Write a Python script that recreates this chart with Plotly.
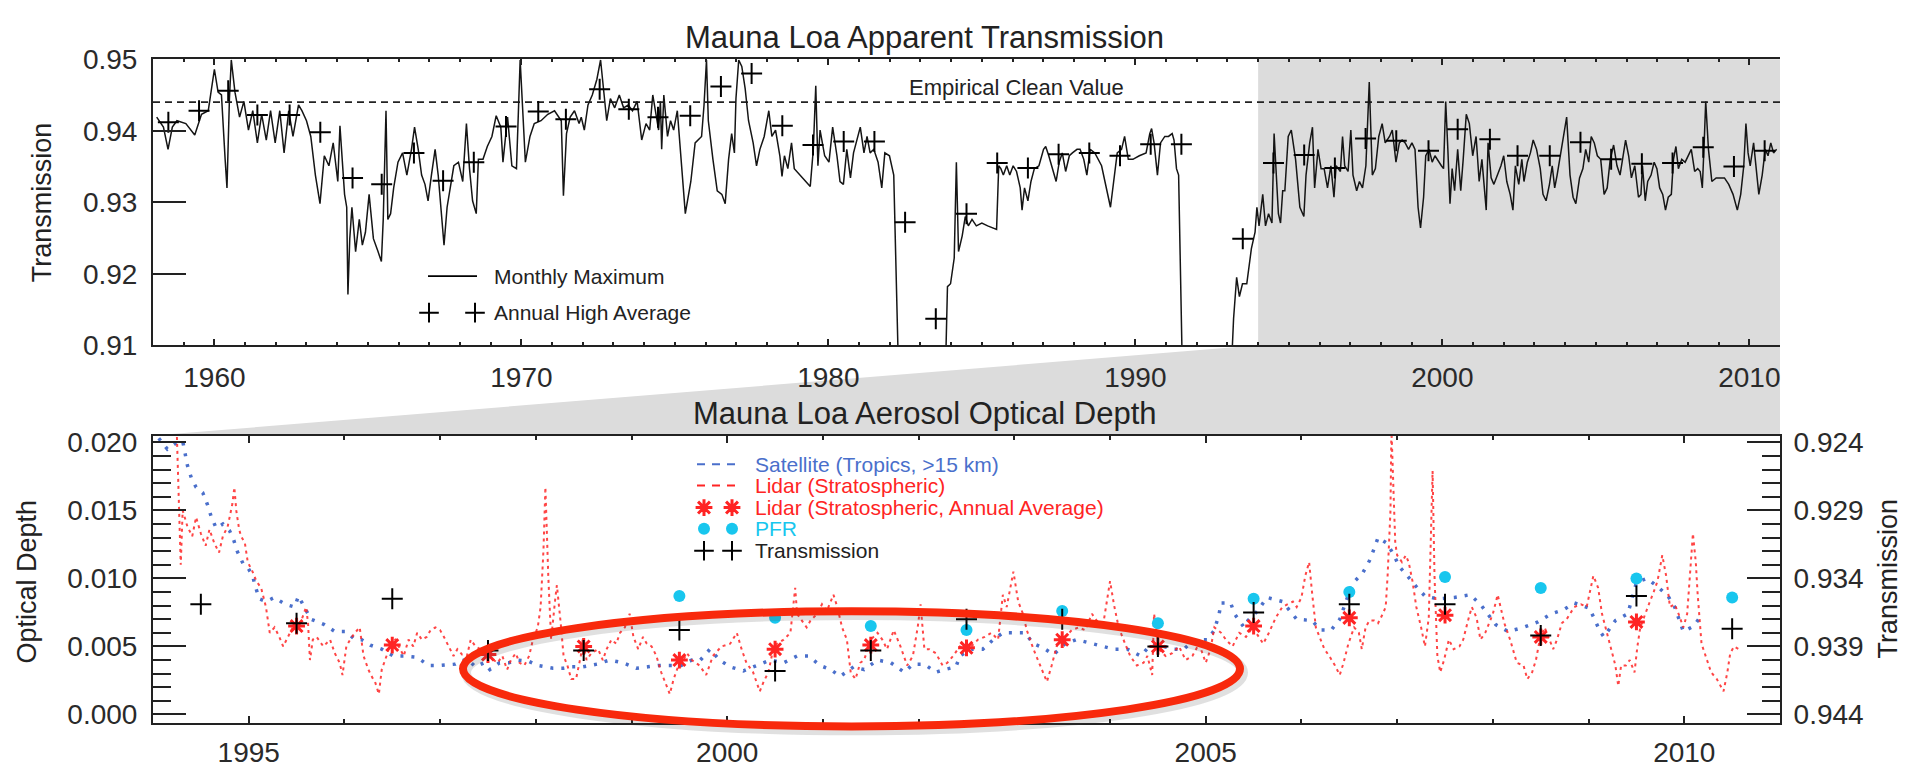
import plotly.graph_objects as go

W, H = 1919, 778
FONT = "Liberation Sans, Arial, Helvetica, sans-serif"
INK = "#222222"

# ---------------- data: Mauna Loa apparent transmission (monthly maximum) ----------------
MONTHLY_YEAR = [
    1958.12, 1958.34, 1958.49, 1958.63, 1958.78, 1959.07, 1959.36, 1959.58, 1959.80, 1960.00,
    1960.12, 1960.23, 1960.35, 1960.41, 1960.49, 1960.55, 1960.67, 1960.82, 1960.96, 1961.11,
    1961.25, 1961.40, 1961.54, 1961.69, 1961.83, 1961.98, 1962.13, 1962.27, 1962.42, 1962.56,
    1962.74, 1962.85, 1963.00, 1963.14, 1963.29, 1963.44, 1963.58, 1963.73, 1963.87, 1964.02,
    1964.09, 1964.16, 1964.24, 1964.31, 1964.35, 1964.41, 1964.48, 1964.60, 1964.72, 1964.82,
    1964.92, 1965.04, 1965.18, 1965.33, 1965.44, 1965.50, 1965.59, 1965.65, 1965.74, 1965.84,
    1965.98, 1966.13, 1966.27, 1966.42, 1966.52, 1966.64, 1966.75, 1966.86, 1966.96, 1967.07,
    1967.19, 1967.29, 1967.39, 1967.48, 1967.58, 1967.69, 1967.80, 1967.95, 1968.09, 1968.21,
    1968.31, 1968.41, 1968.53, 1968.60, 1968.75, 1968.89, 1969.04, 1969.18, 1969.33, 1969.40,
    1969.55, 1969.69, 1969.84, 1969.96, 1970.06, 1970.13, 1970.28, 1970.42, 1970.64, 1970.86,
    1971.08, 1971.30, 1971.37, 1971.47, 1971.59, 1971.73, 1971.88, 1971.95, 1972.05, 1972.17,
    1972.31, 1972.46, 1972.58, 1972.68, 1972.78, 1972.90, 1973.04, 1973.19, 1973.33, 1973.48,
    1973.62, 1973.77, 1973.92, 1974.06, 1974.18, 1974.28, 1974.38, 1974.47, 1974.53, 1974.57,
    1974.64, 1974.76, 1974.86, 1974.96, 1975.08, 1975.23, 1975.34, 1975.52, 1975.66, 1975.87,
    1975.95, 1976.03, 1976.09, 1976.24, 1976.38, 1976.53, 1976.64, 1976.75, 1976.85, 1976.94,
    1976.99, 1977.08, 1977.18, 1977.29, 1977.40, 1977.55, 1977.66, 1977.77, 1977.91, 1978.06,
    1978.16, 1978.28, 1978.42, 1978.49, 1978.57, 1978.68, 1978.80, 1978.89, 1979.15, 1979.41,
    1979.51, 1979.59, 1979.66, 1979.73, 1979.88, 1980.02, 1980.14, 1980.28, 1980.38, 1980.49,
    1980.60, 1980.72, 1980.82, 1980.92, 1981.04, 1981.16, 1981.26, 1981.36, 1981.48, 1981.62,
    1981.74, 1981.84, 1981.99, 1982.13, 1982.32,
    1983.78, 1983.88, 1983.98, 1984.10, 1984.17, 1984.24, 1984.36, 1984.46, 1984.56, 1984.68,
    1984.82, 1985.00, 1985.19, 1985.48, 1985.55, 1985.62, 1985.70, 1985.81, 1985.91, 1986.02,
    1986.13, 1986.25, 1986.31, 1986.39, 1986.50, 1986.60, 1986.71, 1986.86, 1987.01, 1987.08,
    1987.18, 1987.30, 1987.42, 1987.52, 1987.62, 1987.73, 1987.85, 1987.95, 1988.10, 1988.20,
    1988.32, 1988.42, 1988.53, 1988.68, 1988.90, 1989.19, 1989.41, 1989.55, 1989.65, 1989.77,
    1989.92, 1990.13, 1990.35, 1990.47, 1990.53, 1990.61, 1990.72, 1990.82, 1990.96, 1991.08,
    1991.20, 1991.26, 1991.34, 1991.41, 1991.56,
    1993.06, 1993.20, 1993.30, 1993.39, 1993.49, 1993.63, 1993.78, 1993.90, 1993.96, 1994.03,
    1994.15, 1994.24, 1994.34, 1994.45, 1994.52, 1994.59, 1994.66, 1994.73, 1994.80, 1994.87,
    1994.98, 1995.08, 1995.22, 1995.36, 1995.49, 1995.56, 1995.68, 1995.77, 1995.84, 1995.95,
    1996.05, 1996.15, 1996.26, 1996.37, 1996.47, 1996.54, 1996.68, 1996.75, 1996.82, 1996.93,
    1997.02, 1997.09, 1997.21, 1997.30, 1997.40, 1997.51, 1997.62, 1997.72, 1997.82, 1997.93,
    1998.04, 1998.14, 1998.28, 1998.37, 1998.49, 1998.60, 1998.69, 1998.79, 1998.90, 1999.01,
    1999.11, 1999.21, 1999.29, 1999.39, 1999.46, 1999.57, 1999.67, 1999.76, 1999.88, 1999.97,
    2000.04, 2000.11, 2000.18, 2000.25, 2000.32, 2000.40, 2000.50, 2000.60, 2000.68, 2000.78,
    2000.88, 2000.99, 2001.10, 2001.20, 2001.29, 2001.38, 2001.43, 2001.49, 2001.59, 2001.68,
    2001.79, 2001.91, 2002.00, 2002.10, 2002.21, 2002.30, 2002.38, 2002.49, 2002.59, 2002.66,
    2002.77, 2002.87, 2002.96, 2003.07, 2003.19, 2003.28, 2003.38, 2003.49, 2003.58, 2003.66,
    2003.74, 2003.84, 2003.94, 2004.05, 2004.16, 2004.26, 2004.35, 2004.47, 2004.58, 2004.67,
    2004.77, 2004.85, 2004.95, 2005.05, 2005.16, 2005.27, 2005.37, 2005.47, 2005.58, 2005.69,
    2005.79, 2005.88, 2005.97, 2006.07, 2006.16, 2006.27, 2006.39, 2006.47, 2006.52, 2006.61,
    2006.69, 2006.80, 2006.90, 2006.99, 2007.08, 2007.18, 2007.27, 2007.36, 2007.46, 2007.53,
    2007.61, 2007.69, 2007.80, 2007.91, 2008.01, 2008.11, 2008.22, 2008.32, 2008.40, 2008.47,
    2008.53, 2008.58, 2008.67, 2008.78, 2008.92, 2009.06, 2009.19, 2009.33, 2009.47, 2009.61,
    2009.72, 2009.82, 2009.89, 2009.96, 2010.03, 2010.14, 2010.24, 2010.31, 2010.42, 2010.52,
    2010.61, 2010.70, 2010.79, 2010.89,
]
MONTHLY_TRANS = [
    0.9419, 0.9405, 0.9374, 0.9405, 0.9414, 0.9410, 0.9394, 0.9423, 0.9428, 0.9486,
    0.9454, 0.9450, 0.9360, 0.9320, 0.9445, 0.9499, 0.9454, 0.9419, 0.9441, 0.9401,
    0.9428, 0.9383, 0.9423, 0.9387, 0.9428, 0.9383, 0.9428, 0.9369, 0.9428, 0.9392,
    0.9436, 0.9428, 0.9414, 0.9392, 0.9338, 0.9298, 0.9365, 0.9351, 0.9383, 0.9329,
    0.9407, 0.9360, 0.9311, 0.9293, 0.9171, 0.9249, 0.9293, 0.9231, 0.9276, 0.9240,
    0.9258, 0.9311, 0.9249, 0.9231, 0.9217, 0.9276, 0.9428, 0.9276, 0.9284, 0.9320,
    0.9356, 0.9369, 0.9338, 0.9374, 0.9405, 0.9374, 0.9338, 0.9325, 0.9302, 0.9338,
    0.9374, 0.9338, 0.9284, 0.9240, 0.9293, 0.9320, 0.9351, 0.9356, 0.9329, 0.9410,
    0.9347, 0.9302, 0.9284, 0.9360, 0.9360, 0.9378, 0.9392, 0.9421, 0.9405, 0.9356,
    0.9419, 0.9351, 0.9347, 0.9499, 0.9419, 0.9356, 0.9392, 0.9410, 0.9414, 0.9423,
    0.9428, 0.9414, 0.9309, 0.9396, 0.9419, 0.9428, 0.9410, 0.9419, 0.9401, 0.9436,
    0.9450, 0.9472, 0.9499, 0.9459, 0.9414, 0.9445, 0.9432, 0.9450, 0.9432, 0.9436,
    0.9428, 0.9441, 0.9387, 0.9410, 0.9401, 0.9450, 0.9423, 0.9401, 0.9441, 0.9374,
    0.9450, 0.9392, 0.9414, 0.9401, 0.9428, 0.9338, 0.9284, 0.9329, 0.9383, 0.9392,
    0.9436, 0.9499, 0.9414, 0.9360, 0.9316, 0.9311, 0.9298, 0.9360, 0.9396, 0.9369,
    0.9445, 0.9499, 0.9490, 0.9459, 0.9414, 0.9383, 0.9351, 0.9374, 0.9392, 0.9428,
    0.9392, 0.9401, 0.9365, 0.9336, 0.9365, 0.9347, 0.9383, 0.9347, 0.9334, 0.9322,
    0.9374, 0.9463, 0.9351, 0.9401, 0.9365, 0.9356, 0.9405, 0.9365, 0.9329, 0.9325,
    0.9374, 0.9334, 0.9369, 0.9387, 0.9405, 0.9369, 0.9392, 0.9369, 0.9374, 0.9356,
    0.9320, 0.9369, 0.9365, 0.9338, 0.9000,
    0.9000, 0.9182, 0.9186, 0.9222, 0.9356, 0.9231, 0.9253, 0.9280, 0.9267, 0.9276,
    0.9267, 0.9271, 0.9267, 0.9262, 0.9351, 0.9347, 0.9338, 0.9351, 0.9338, 0.9351,
    0.9343, 0.9320, 0.9289, 0.9320, 0.9302, 0.9329, 0.9347, 0.9351, 0.9374, 0.9378,
    0.9365, 0.9347, 0.9329, 0.9356, 0.9369, 0.9343, 0.9365, 0.9369, 0.9374, 0.9374,
    0.9360, 0.9338, 0.9374, 0.9369, 0.9351, 0.9293, 0.9369, 0.9374, 0.9392, 0.9360,
    0.9360, 0.9365, 0.9369, 0.9396, 0.9403, 0.9383, 0.9338, 0.9383, 0.9392, 0.9392,
    0.9396, 0.9387, 0.9347, 0.9338, 0.9000,
    0.9000, 0.9137, 0.9195, 0.9168, 0.9186, 0.9186, 0.9235, 0.9258, 0.9293, 0.9267,
    0.9311, 0.9267, 0.9284, 0.9271, 0.9396, 0.9338, 0.9284, 0.9271, 0.9316, 0.9316,
    0.9392, 0.9401, 0.9360, 0.9293, 0.9280, 0.9338, 0.9383, 0.9405, 0.9320, 0.9374,
    0.9347, 0.9347, 0.9320, 0.9351, 0.9307, 0.9351, 0.9343, 0.9392, 0.9351, 0.9343,
    0.9401, 0.9338, 0.9316, 0.9329, 0.9320, 0.9351, 0.9468, 0.9338, 0.9347, 0.9392,
    0.9410, 0.9383, 0.9392, 0.9401, 0.9356, 0.9383, 0.9387, 0.9383, 0.9374, 0.9383,
    0.9374, 0.9293, 0.9264, 0.9307, 0.9365, 0.9374, 0.9356, 0.9365, 0.9356, 0.9351,
    0.9347, 0.9441, 0.9374, 0.9298, 0.9347, 0.9316, 0.9374, 0.9316, 0.9360, 0.9423,
    0.9410, 0.9365, 0.9392, 0.9329, 0.9360, 0.9311, 0.9289, 0.9383, 0.9334, 0.9325,
    0.9338, 0.9351, 0.9365, 0.9329, 0.9311, 0.9289, 0.9351, 0.9325, 0.9360, 0.9329,
    0.9356, 0.9369, 0.9387, 0.9374, 0.9347, 0.9311, 0.9302, 0.9325, 0.9351, 0.9320,
    0.9338, 0.9365, 0.9387, 0.9419, 0.9338, 0.9307, 0.9298, 0.9334, 0.9347, 0.9374,
    0.9356, 0.9392, 0.9383, 0.9365, 0.9360, 0.9311, 0.9320, 0.9360, 0.9380, 0.9351,
    0.9338, 0.9365, 0.9387, 0.9365, 0.9334, 0.9351, 0.9307, 0.9311, 0.9351, 0.9302,
    0.9329, 0.9338, 0.9356, 0.9347, 0.9320, 0.9311, 0.9289, 0.9307, 0.9311, 0.9360,
    0.9378, 0.9347, 0.9360, 0.9356, 0.9365, 0.9374, 0.9343, 0.9347, 0.9343, 0.9320,
    0.9383, 0.9441, 0.9374, 0.9329, 0.9334, 0.9334, 0.9334, 0.9325, 0.9311, 0.9289,
    0.9311, 0.9351, 0.9410, 0.9369, 0.9351, 0.9383, 0.9338, 0.9311, 0.9338, 0.9374,
    0.9365, 0.9383, 0.9369, 0.9374,
]

ANNUAL_YEAR = [
    1958.5, 1959.5, 1960.45, 1961.4, 1962.45, 1963.45, 1964.5, 1965.45, 1966.5, 1967.45,
    1968.45, 1969.5, 1970.55, 1971.45, 1972.55, 1973.5, 1974.45, 1975.5, 1976.5, 1977.5,
    1978.5, 1979.5, 1980.5, 1981.5, 1982.5, 1983.5, 1984.5, 1985.5, 1986.5, 1987.5,
    1988.5, 1989.5, 1990.5, 1991.5, 1993.5, 1994.5, 1995.5, 1996.5, 1997.5, 1998.5,
    1999.55, 2000.5, 2001.55, 2002.45, 2003.5, 2004.5, 2005.5, 2006.5, 2007.5, 2008.5,
    2009.5, 2010.5,
]
ANNUAL_TRANS = [
    0.9412, 0.9428, 0.9456, 0.9422, 0.9422, 0.9398, 0.9334, 0.9325, 0.9369, 0.9330,
    0.9356, 0.9406, 0.9427, 0.9416, 0.9458, 0.9430, 0.9419, 0.9421, 0.9462, 0.9480,
    0.9407, 0.9380, 0.9385, 0.9385, 0.9272, 0.9137, 0.9284, 0.9355, 0.9348, 0.9367,
    0.9369, 0.9365, 0.9381, 0.9381, 0.9249, 0.9355, 0.9366, 0.9348, 0.9389, 0.9386,
    0.9372, 0.9402, 0.9388, 0.9365, 0.9365, 0.9384, 0.9360, 0.9354, 0.9355, 0.9377,
    0.9350, 0.9372,
]
CLEAN_VALUE = 0.944

# ---------------- data: Mauna Loa aerosol optical depth ----------------
SAT_YEAR = [
    1994.06, 1994.15, 1994.23, 1994.31, 1994.36, 1994.40, 1994.45, 1994.52, 1994.57, 1994.61,
    1994.66, 1994.73, 1994.80, 1994.84, 1994.88, 1994.94, 1994.99, 1995.04, 1995.07, 1995.11,
    1995.18, 1995.27, 1995.38, 1995.48, 1995.52, 1995.58, 1995.65, 1995.79, 1995.90, 1996.02,
    1996.11, 1996.18, 1996.27, 1996.39, 1996.51, 1996.62, 1996.76, 1996.88, 1997.00, 1997.16,
    1997.28, 1997.37, 1997.46, 1997.52, 1997.62, 1997.72, 1997.81, 1997.93, 1998.02, 1998.18,
    1998.29, 1998.37, 1998.49, 1998.64, 1998.77, 1998.91, 1999.05, 1999.17, 1999.28, 1999.40,
    1999.52, 1999.63, 1999.72, 1999.82, 1999.92, 2000.03, 2000.17, 2000.31, 2000.45, 2000.59,
    2000.73, 2000.85, 2000.97, 2001.08, 2001.18, 2001.32, 2001.43, 2001.57, 2001.71, 2001.85,
    2001.94, 2002.06, 2002.18, 2002.27, 2002.39, 2002.43, 2002.55, 2002.67, 2002.78, 2002.88,
    2002.99, 2003.11, 2003.20, 2003.30, 2003.41, 2003.53, 2003.65, 2003.76, 2003.90, 2004.04,
    2004.18, 2004.32, 2004.42, 2004.56, 2004.67, 2004.77, 2004.88, 2005.02, 2005.09, 2005.14,
    2005.16, 2005.26, 2005.30, 2005.40, 2005.44, 2005.54, 2005.64, 2005.80, 2005.95, 2006.11,
    2006.20, 2006.31, 2006.40, 2006.53, 2006.64, 2006.71, 2006.76, 2006.80, 2006.89, 2006.96,
    2007.02, 2007.11, 2007.20, 2007.29, 2007.42, 2007.60, 2007.76, 2007.87, 2008.03, 2008.16,
    2008.32, 2008.47, 2008.61, 2008.74, 2008.85, 2009.01, 2009.12, 2009.16, 2009.28, 2009.41,
    2009.50, 2009.61, 2009.72, 2009.83, 2009.90, 2009.99, 2010.10, 2010.19,
]
SAT_OD = [
    0.0203, 0.0195, 0.0199, 0.0201, 0.0183, 0.0174, 0.0167, 0.0163, 0.0154, 0.0145,
    0.0137, 0.0140, 0.0135, 0.0129, 0.0120, 0.0111, 0.0108, 0.0102, 0.0094, 0.0085,
    0.0083, 0.0086, 0.0081, 0.0079, 0.0087, 0.0079, 0.0070, 0.0066, 0.0061, 0.0061,
    0.0055, 0.0055, 0.0051, 0.0048, 0.0043, 0.0043, 0.0042, 0.0036, 0.0036, 0.0037,
    0.0041, 0.0035, 0.0038, 0.0033, 0.0038, 0.0038, 0.0040, 0.0039, 0.0036, 0.0034,
    0.0034, 0.0035, 0.0035, 0.0037, 0.0040, 0.0038, 0.0034, 0.0035, 0.0036, 0.0036,
    0.0036, 0.0040, 0.0040, 0.0048, 0.0040, 0.0035, 0.0032, 0.0036, 0.0040, 0.0038,
    0.0043, 0.0043, 0.0036, 0.0033, 0.0028, 0.0035, 0.0033, 0.0040, 0.0038, 0.0031,
    0.0037, 0.0037, 0.0031, 0.0033, 0.0035, 0.0043, 0.0048, 0.0048, 0.0055, 0.0060,
    0.0060, 0.0060, 0.0052, 0.0049, 0.0044, 0.0052, 0.0055, 0.0053, 0.0051, 0.0048,
    0.0048, 0.0043, 0.0051, 0.0050, 0.0048, 0.0048, 0.0055, 0.0055, 0.0062, 0.0074,
    0.0082, 0.0082, 0.0074, 0.0064, 0.0069, 0.0076, 0.0086, 0.0083, 0.0070, 0.0069,
    0.0062, 0.0062, 0.0070, 0.0096, 0.0104, 0.0113, 0.0122, 0.0130, 0.0126, 0.0118,
    0.0109, 0.0101, 0.0094, 0.0087, 0.0085, 0.0086, 0.0088, 0.0081, 0.0066, 0.0061,
    0.0064, 0.0068, 0.0074, 0.0077, 0.0082, 0.0078, 0.0061, 0.0057, 0.0069, 0.0074,
    0.0097, 0.0100, 0.0094, 0.0087, 0.0079, 0.0061, 0.0065, 0.0074,
]

LIDAR_YEAR = [
    1994.25, 1994.29, 1994.31, 1994.36, 1994.41, 1994.45, 1994.50, 1994.55, 1994.59, 1994.64,
    1994.69, 1994.73, 1994.78, 1994.83, 1994.85, 1994.87, 1994.90, 1994.92, 1994.96, 1994.99,
    1995.04, 1995.08, 1995.13, 1995.18, 1995.22, 1995.27, 1995.32, 1995.36, 1995.41, 1995.46,
    1995.50, 1995.55, 1995.60, 1995.62, 1995.64, 1995.67, 1995.71, 1995.78, 1995.85, 1995.90,
    1995.95, 1995.98, 1996.02, 1996.06, 1996.11, 1996.16, 1996.20, 1996.25, 1996.30, 1996.32,
    1996.36, 1996.39, 1996.44, 1996.48, 1996.53, 1996.58, 1996.62, 1996.67, 1996.72, 1996.76,
    1996.81, 1996.86, 1996.90, 1996.95, 1997.00, 1997.04, 1997.09, 1997.14, 1997.18, 1997.23,
    1997.28, 1997.32, 1997.37, 1997.42, 1997.46, 1997.51, 1997.56, 1997.60, 1997.65, 1997.70,
    1997.74, 1997.79, 1997.83, 1997.88, 1997.93, 1997.97, 1998.02, 1998.05, 1998.08, 1998.10,
    1998.13, 1998.16, 1998.20, 1998.22, 1998.26, 1998.29, 1998.33, 1998.37, 1998.42, 1998.47,
    1998.49, 1998.53, 1998.58, 1998.65, 1998.70, 1998.74, 1998.79, 1998.84, 1998.88, 1998.93,
    1998.98, 1999.02, 1999.07, 1999.12, 1999.16, 1999.21, 1999.26, 1999.31, 1999.35, 1999.40,
    1999.44, 1999.49, 1999.54, 1999.58, 1999.63, 1999.71, 1999.78, 1999.85, 1999.94, 2000.03,
    2000.10, 2000.15, 2000.20, 2000.27, 2000.34, 2000.38, 2000.43, 2000.48, 2000.52, 2000.59,
    2000.66, 2000.71, 2000.73, 2000.78, 2000.83, 2000.87, 2000.94, 2000.99, 2001.04, 2001.11,
    2001.15, 2001.20, 2001.25, 2001.29, 2001.34, 2001.39, 2001.43, 2001.50, 2001.57, 2001.62,
    2001.67, 2001.74, 2001.81, 2001.88, 2001.94, 2001.99, 2002.02, 2002.06, 2002.11, 2002.18,
    2002.25, 2002.30, 2002.36, 2002.43, 2002.50, 2002.55, 2002.62, 2002.69, 2002.76, 2002.83,
    2002.88, 2002.92, 2002.99, 2003.04, 2003.09, 2003.13, 2003.20, 2003.27, 2003.34, 2003.39,
    2003.46, 2003.53, 2003.60, 2003.67, 2003.74, 2003.81, 2003.86, 2003.93, 2004.00, 2004.04,
    2004.09, 2004.14, 2004.21, 2004.28, 2004.35, 2004.39, 2004.44, 2004.46, 2004.51, 2004.58,
    2004.65, 2004.72, 2004.79, 2004.86, 2004.93, 2005.00, 2005.05, 2005.09, 2005.16, 2005.21,
    2005.28, 2005.35, 2005.42, 2005.49, 2005.60, 2005.66, 2005.73, 2005.80, 2005.86, 2005.91,
    2005.95, 2006.00, 2006.04, 2006.08, 2006.11, 2006.15, 2006.20, 2006.24, 2006.29, 2006.35,
    2006.40, 2006.44, 2006.49, 2006.55, 2006.60, 2006.63, 2006.67, 2006.71, 2006.76, 2006.80,
    2006.85, 2006.88, 2006.90, 2006.93, 2006.94, 2006.98, 2007.00, 2007.05, 2007.09, 2007.12,
    2007.16, 2007.20, 2007.25, 2007.29, 2007.33, 2007.35, 2007.37, 2007.39, 2007.42, 2007.45,
    2007.49, 2007.54, 2007.59, 2007.65, 2007.69, 2007.74, 2007.78, 2007.83, 2007.87, 2007.92,
    2007.96, 2008.00, 2008.05, 2008.12, 2008.18, 2008.25, 2008.32, 2008.36, 2008.41, 2008.45,
    2008.49, 2008.54, 2008.58, 2008.63, 2008.67, 2008.72, 2008.78, 2008.85, 2008.92, 2008.98,
    2009.05, 2009.10, 2009.14, 2009.19, 2009.23, 2009.28, 2009.31, 2009.34, 2009.39, 2009.43,
    2009.48, 2009.51, 2009.54, 2009.59, 2009.63, 2009.68, 2009.72, 2009.77, 2009.81, 2009.85,
    2009.90, 2009.94, 2009.99, 2010.03, 2010.06, 2010.09, 2010.12, 2010.14, 2010.18, 2010.22,
    2010.28, 2010.34, 2010.41, 2010.45, 2010.48, 2010.52, 2010.57,
]
LIDAR_OD = [
    0.0204, 0.0110, 0.0150, 0.0138, 0.0131, 0.0145, 0.0133, 0.0124, 0.0136, 0.0126,
    0.0119, 0.0131, 0.0138, 0.0155, 0.0167, 0.0150, 0.0136, 0.0131, 0.0126, 0.0112,
    0.0105, 0.0098, 0.0093, 0.0079, 0.0060, 0.0064, 0.0057, 0.0050, 0.0057, 0.0064,
    0.0062, 0.0069, 0.0079, 0.0067, 0.0040, 0.0055, 0.0057, 0.0050, 0.0055, 0.0045,
    0.0038, 0.0029, 0.0050, 0.0055, 0.0060, 0.0064, 0.0043, 0.0033, 0.0026, 0.0024,
    0.0015, 0.0033, 0.0043, 0.0052, 0.0055, 0.0048, 0.0043, 0.0055, 0.0050, 0.0060,
    0.0055, 0.0057, 0.0062, 0.0064, 0.0062, 0.0057, 0.0050, 0.0043, 0.0048, 0.0044,
    0.0043, 0.0055, 0.0050, 0.0048, 0.0048, 0.0045, 0.0040, 0.0038, 0.0043, 0.0033,
    0.0040, 0.0045, 0.0038, 0.0036, 0.0043, 0.0055, 0.0064, 0.0079, 0.0121, 0.0167,
    0.0102, 0.0055, 0.0083, 0.0095, 0.0067, 0.0043, 0.0036, 0.0026, 0.0026, 0.0043,
    0.0055, 0.0040, 0.0045, 0.0048, 0.0040, 0.0048, 0.0055, 0.0052, 0.0060, 0.0064,
    0.0074, 0.0057, 0.0048, 0.0057, 0.0052, 0.0050, 0.0043, 0.0031, 0.0024, 0.0015,
    0.0026, 0.0036, 0.0040, 0.0045, 0.0040, 0.0036, 0.0029, 0.0043, 0.0050, 0.0052,
    0.0060, 0.0048, 0.0038, 0.0031, 0.0017, 0.0024, 0.0031, 0.0048, 0.0052, 0.0055,
    0.0060, 0.0093, 0.0074, 0.0069, 0.0064, 0.0069, 0.0074, 0.0081, 0.0076, 0.0088,
    0.0079, 0.0064, 0.0055, 0.0031, 0.0026, 0.0038, 0.0040, 0.0055, 0.0060, 0.0055,
    0.0048, 0.0062, 0.0050, 0.0036, 0.0043, 0.0064, 0.0081, 0.0048, 0.0048, 0.0045,
    0.0036, 0.0038, 0.0043, 0.0050, 0.0048, 0.0050, 0.0055, 0.0057, 0.0060, 0.0055,
    0.0088, 0.0079, 0.0105, 0.0083, 0.0074, 0.0062, 0.0048, 0.0036, 0.0024, 0.0036,
    0.0055, 0.0057, 0.0062, 0.0064, 0.0062, 0.0074, 0.0069, 0.0067, 0.0098, 0.0081,
    0.0064, 0.0055, 0.0043, 0.0036, 0.0038, 0.0043, 0.0029, 0.0074, 0.0048, 0.0043,
    0.0045, 0.0050, 0.0040, 0.0043, 0.0052, 0.0038, 0.0048, 0.0064, 0.0060, 0.0055,
    0.0050, 0.0060, 0.0057, 0.0064, 0.0052, 0.0060, 0.0071, 0.0079, 0.0081, 0.0083,
    0.0079, 0.0086, 0.0102, 0.0112, 0.0090, 0.0064, 0.0055, 0.0048, 0.0043, 0.0036,
    0.0029, 0.0038, 0.0052, 0.0064, 0.0060, 0.0048, 0.0064, 0.0069, 0.0069, 0.0067,
    0.0074, 0.0079, 0.0102, 0.0150, 0.0210, 0.0126, 0.0117, 0.0112, 0.0117, 0.0112,
    0.0098, 0.0079, 0.0064, 0.0050, 0.0071, 0.0126, 0.0179, 0.0102, 0.0043, 0.0031,
    0.0040, 0.0055, 0.0048, 0.0050, 0.0055, 0.0069, 0.0079, 0.0071, 0.0055, 0.0060,
    0.0067, 0.0074, 0.0088, 0.0067, 0.0055, 0.0038, 0.0036, 0.0026, 0.0031, 0.0040,
    0.0055, 0.0064, 0.0057, 0.0048, 0.0055, 0.0067, 0.0071, 0.0079, 0.0081, 0.0079,
    0.0102, 0.0093, 0.0074, 0.0060, 0.0050, 0.0036, 0.0021, 0.0036, 0.0036, 0.0040,
    0.0031, 0.0050, 0.0064, 0.0074, 0.0081, 0.0090, 0.0098, 0.0117, 0.0102, 0.0079,
    0.0081, 0.0074, 0.0064, 0.0074, 0.0102, 0.0133, 0.0112, 0.0088, 0.0052, 0.0043,
    0.0031, 0.0026, 0.0017, 0.0031, 0.0045, 0.0050, 0.0048,
]

LIDAR_AVG_YEAR = [1995.5, 1996.5, 1997.5, 1998.5, 1999.5, 2000.5, 2001.5, 2002.5,
                  2003.5, 2004.5, 2005.5, 2006.5, 2007.5, 2008.5, 2009.5]
LIDAR_AVG_OD = [0.0065, 0.0051, 0.0044, 0.0050, 0.0040, 0.0048, 0.0051, 0.0049,
                0.0055, 0.0050, 0.0065, 0.0071, 0.0073, 0.0057, 0.0068]

PFR_YEAR = [1999.5, 2000.5, 2001.5, 2002.5, 2003.5, 2004.5, 2005.5, 2006.5,
            2007.5, 2008.5, 2009.5, 2010.5]
PFR_OD = [0.0087, 0.0071, 0.0065, 0.0062, 0.0076, 0.0067, 0.0085, 0.0090,
          0.0101, 0.0093, 0.0100, 0.0086]

TRANS_YEAR = [1994.5, 1995.5, 1996.5, 1997.5, 1998.5, 1999.5, 2000.5, 2001.5, 2002.5,
              2003.5, 2004.5, 2005.5, 2006.5, 2007.5, 2008.5, 2009.5, 2010.5]
TRANS_VALUE = [0.9359, 0.9373, 0.9355, 0.9393, 0.9393, 0.9378, 0.9408, 0.9393, 0.9370,
               0.9370, 0.9390, 0.9365, 0.9359, 0.9359, 0.9382, 0.9353, 0.9377]

# ---------------- layout geometry ----------------
X_LEFT, X_RIGHT = 153, 1780          # plot frame, pixels
TOP_Y0, TOP_Y1 = 46, 344
BOT_Y0, BOT_Y1 = 438, 737

TOP_XRANGE = [1958, 2011]
BOT_XRANGE = [1994, 2011]
TOP_YRANGE = [0.90999, 0.95001]
OD_RANGE = [-0.0006, 0.0205]
T_ZERO = 0.944                       # transmission matching zero optical depth
T_RANGE = [T_ZERO - OD_RANGE[0], T_ZERO - OD_RANGE[1]]


def fx(p):
    return p / W


def fy(p):
    return 1 - p / H


XDOM = [fx(X_LEFT), fx(X_RIGHT)]
TOP_DOM = [fy(TOP_Y1), fy(TOP_Y0)]
BOT_DOM = [fy(BOT_Y1), fy(BOT_Y0)]


def top_x_to_paper(year):
    return XDOM[0] + (year - TOP_XRANGE[0]) / (TOP_XRANGE[1] - TOP_XRANGE[0]) * (XDOM[1] - XDOM[0])


RED = "#ff2424"
BLUE = "#4a6fcb"
CYAN = "#18c6ee"

fig = go.Figure()

# top panel
fig.add_trace(go.Scatter(x=TOP_XRANGE, y=[CLEAN_VALUE, CLEAN_VALUE], mode="lines",
                         line=dict(color=INK, width=1.6, dash="7px,5px"),
                         xaxis="x", yaxis="y", hoverinfo="skip"))
fig.add_trace(go.Scatter(x=MONTHLY_YEAR, y=MONTHLY_TRANS, mode="lines",
                         line=dict(color="#151515", width=1.5),
                         xaxis="x", yaxis="y", name="Monthly Maximum"))
fig.add_trace(go.Scatter(x=ANNUAL_YEAR, y=ANNUAL_TRANS, mode="markers",
                         marker=dict(symbol="cross-thin", size=15,
                                     line=dict(color="#000000", width=2)),
                         xaxis="x", yaxis="y", name="Annual High Average"))

# bottom panel
fig.add_trace(go.Scatter(x=SAT_YEAR, y=SAT_OD, mode="lines",
                         line=dict(color=BLUE, width=3.5, dash="3px,8px"),
                         xaxis="x2", yaxis="y3", name="Satellite (Tropics, >15 km)"))
fig.add_trace(go.Scatter(x=LIDAR_YEAR, y=LIDAR_OD, mode="lines",
                         line=dict(color="rgba(255,36,36,0.85)", width=2, dash="3px,4px"),
                         xaxis="x2", yaxis="y3", name="Lidar (Stratospheric)"))
fig.add_trace(go.Scatter(x=LIDAR_AVG_YEAR, y=LIDAR_AVG_OD, mode="markers",
                         marker=dict(symbol="asterisk", size=14, line=dict(color=RED, width=3)),
                         xaxis="x2", yaxis="y3", name="Lidar (Stratospheric, Annual Average)"))
fig.add_trace(go.Scatter(x=PFR_YEAR, y=PFR_OD, mode="markers",
                         marker=dict(symbol="circle", size=12, color=CYAN),
                         xaxis="x2", yaxis="y3", name="PFR"))
fig.add_trace(go.Scatter(x=TRANS_YEAR, y=TRANS_VALUE, mode="markers",
                         marker=dict(symbol="cross-thin", size=15,
                                     line=dict(color="#000000", width=2)),
                         xaxis="x2", yaxis="y4", name="Transmission"))

# hand-drawn legend glyphs on a full-figure overlay axis
LEG_TOP_PLUS_X = [fx(429), fx(475)]
LEG_BOT_SYM_X = [fx(704), fx(732)]
fig.add_trace(go.Scatter(x=LEG_TOP_PLUS_X, y=[fy(310)] * 2, mode="markers",
                         marker=dict(symbol="cross-thin", size=14, line=dict(color="#000", width=2)),
                         xaxis="x3", yaxis="y5", hoverinfo="skip"))
fig.add_trace(go.Scatter(x=LEG_BOT_SYM_X, y=[fy(513)] * 2, mode="markers",
                         marker=dict(symbol="asterisk", size=14, line=dict(color=RED, width=3)),
                         xaxis="x3", yaxis="y5", hoverinfo="skip"))
fig.add_trace(go.Scatter(x=LEG_BOT_SYM_X, y=[fy(535)] * 2, mode="markers",
                         marker=dict(symbol="circle", size=12, color=CYAN),
                         xaxis="x3", yaxis="y5", hoverinfo="skip"))
fig.add_trace(go.Scatter(x=LEG_BOT_SYM_X, y=[fy(558)] * 2, mode="markers",
                         marker=dict(symbol="cross-thin", size=14, line=dict(color="#000", width=2)),
                         xaxis="x3", yaxis="y5", hoverinfo="skip"))

TICKFONT = dict(family=FONT, size=28, color="#2a2a2a")
common_axis = dict(showgrid=False, zeroline=False, showline=True, linewidth=2,
                   linecolor=INK, tickcolor=INK, tickfont=TICKFONT)

layout = dict(
    width=W, height=H, margin=dict(l=0, r=0, t=0, b=0),
    paper_bgcolor="white", plot_bgcolor="rgba(0,0,0,0)", showlegend=False,
    font=dict(family=FONT, color=INK),
    xaxis=dict(common_axis, domain=XDOM, range=TOP_XRANGE, anchor="y",
               tick0=1960, dtick=10, ticks="inside", ticklen=6, tickwidth=1.5,
               mirror="ticks", ticklabelstandoff=6,
               minor=dict(ticks="inside", ticklen=3, tickwidth=1.5, dtick=1, tick0=1958,
                          tickcolor=INK)),
    yaxis=dict(common_axis, domain=TOP_DOM, range=TOP_YRANGE, anchor="x",
               tick0=0.91, dtick=0.01, tickformat=".2f", ticks="inside", ticklen=33,
               tickwidth=2, ticklabelstandoff=8),
    yaxis2=dict(common_axis, domain=TOP_DOM, range=TOP_YRANGE, anchor="x", overlaying="y",
                side="right", tick0=0.91, dtick=0.01, tickformat=".2f", ticks="inside",
                ticklen=33, tickwidth=2, ticklabelstandoff=6),
    xaxis2=dict(common_axis, domain=XDOM, range=BOT_XRANGE, anchor="y3",
                tick0=1995, dtick=5, ticks="inside", ticklen=7, tickwidth=1.5,
                mirror="ticks", ticklabelstandoff=4,
                minor=dict(ticks="inside", ticklen=4, tickwidth=1.5, dtick=1, tick0=1994,
                           tickcolor=INK)),
    yaxis3=dict(common_axis, domain=BOT_DOM, range=OD_RANGE, anchor="x2",
                tick0=0, dtick=0.005, tickformat=".3f", ticks="inside", ticklen=33,
                tickwidth=2, ticklabelstandoff=8,
                minor=dict(ticks="inside", ticklen=18, tickwidth=2, dtick=0.001, tick0=0,
                           tickcolor=INK)),
    yaxis4=dict(common_axis, domain=BOT_DOM, range=T_RANGE, anchor="x2", overlaying="y3",
                side="right", tick0=0.924, dtick=0.005, tickformat=".3f", ticks="inside",
                ticklen=33, tickwidth=2, ticklabelstandoff=6,
                minor=dict(ticks="inside", ticklen=18, tickwidth=2, dtick=0.001, tick0=0.924,
                           tickcolor=INK)),
    xaxis3=dict(domain=[0, 1], range=[0, 1], visible=False, anchor="y5", fixedrange=True),
    yaxis5=dict(domain=[0, 1], range=[0, 1], visible=False, anchor="x3", fixedrange=True),
)

GRAY = "#dcdcdc"
x1994 = top_x_to_paper(BOT_XRANGE[0])
shapes = [
    # shaded part of the long record that the lower panel expands
    dict(type="rect", xref="paper", yref="paper", x0=x1994, x1=XDOM[1],
         y0=TOP_DOM[0], y1=TOP_DOM[1], fillcolor=GRAY, line=dict(width=0), layer="below"),
    # connecting wedge between the two panels
    dict(type="path", xref="paper", yref="paper",
         path=f"M {x1994},{TOP_DOM[0]} L {XDOM[1]},{TOP_DOM[0]} L {XDOM[1]},{BOT_DOM[1]} "
              f"L {XDOM[0]},{BOT_DOM[1]} Z",
         fillcolor=GRAY, line=dict(width=0), layer="below"),
    # top legend line sample
    dict(type="line", xref="paper", yref="paper", x0=fx(428), x1=fx(477), y0=fy(272), y1=fy(272),
         line=dict(color="#000", width=1.8)),
    # bottom legend dash samples
    dict(type="line", xref="paper", yref="paper", x0=fx(697), x1=fx(737), y0=fy(468), y1=fy(468),
         line=dict(color=BLUE, width=2, dash="8px,7px")),
    dict(type="line", xref="paper", yref="paper", x0=fx(697), x1=fx(737), y0=fy(490), y1=fy(490),
         line=dict(color=RED, width=2, dash="8px,7px")),
    # highlight ellipse with a soft shadow
    dict(type="circle", xref="paper", yref="paper", x0=fx(466), x1=fx(1243), y0=fy(745), y1=fy(625),
         line=dict(color="rgba(60,60,60,0.16)", width=10), layer="above"),
    dict(type="circle", xref="paper", yref="paper", x0=fx(463), x1=fx(1240), y0=fy(741), y1=fy(621),
         line=dict(color="#f8290c", width=8), layer="above"),
]
layout["shapes"] = shapes


def label(text, x, y, size=20, color=INK, anchor="center", angle=0):
    return dict(text=text, x=fx(x), y=fy(y), xref="paper", yref="paper", showarrow=False,
                xanchor=anchor, yanchor="middle", textangle=angle,
                font=dict(family=FONT, size=size, color=color))


layout["annotations"] = [
    label("Mauna Loa Apparent Transmission", 924, 23, size=31),
    label("Mauna Loa Aerosol Optical Depth", 925, 415, size=31),
    label("Empirical Clean Value", 1017, 75, size=22),
    label("Transmission", 42, 195, size=27, angle=-90),
    label("Optical Depth", 27, 590, size=27, angle=-90),
    label("Transmission", 1888, 587, size=27, angle=-90),
    label("Monthly Maximum", 492, 272, size=21, anchor="left"),
    label("Annual High Average", 492, 310, size=21, anchor="left"),
    label("Satellite (Tropics, >15 km)", 753, 468, size=21, color=BLUE, anchor="left"),
    label("Lidar (Stratospheric)", 753, 490, size=21, color=RED, anchor="left"),
    label("Lidar (Stratospheric, Annual Average)", 753, 513, size=21, color=RED, anchor="left"),
    label("PFR", 753, 535, size=21, color=CYAN, anchor="left"),
    label("Transmission", 753, 558, size=21, color=INK, anchor="left"),
]

fig.update_layout(layout)
fig.write_html("out.html")
